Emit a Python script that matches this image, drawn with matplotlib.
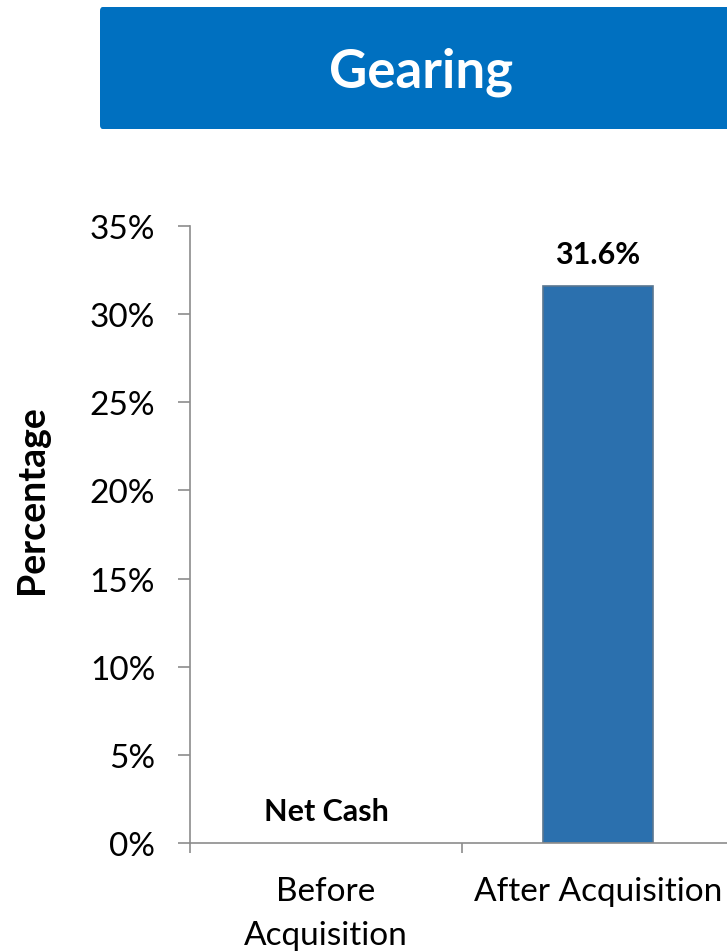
import matplotlib
matplotlib.use("Agg")
import matplotlib.pyplot as plt
from matplotlib.patches import FancyBboxPatch
from matplotlib.ticker import FuncFormatter, MultipleLocator

plt.rcParams['font.family'] = ['Lato', 'DejaVu Sans']

# Data
categories = ["Before\nAcquisition", "After Acquisition"]
values = [0.0, 31.6]
value_labels = ["Net Cash", "31.6%"]
title = "Gearing"
ylabel = "Percentage"

W, H = 727, 953
fig = plt.figure(figsize=(W / 100, H / 100), dpi=100)

# Title banner
box = FancyBboxPatch((100 / W, 1 - 130 / H), 640 / W, 122 / H,
                     boxstyle="round,pad=0,rounding_size=0.004",
                     transform=fig.transFigure, facecolor="#0070C0",
                     edgecolor="none", zorder=0)
fig.patches.append(box)
fig.text(421 / W, 1 - 72 / H, title, color="white", fontsize=38,
         fontweight="bold", ha="center", va="center")

ax = fig.add_axes([190 / W, 1 - 844 / H, 544 / W, (844 - 227) / H])
x = list(range(len(categories)))
edges = ["none" if v == 0 else "#5A7790" for v in values]
bars = ax.bar(x, values, width=0.404, color="#2B70AE", edgecolor=edges,
              linewidth=1.2, zorder=2)

for xi, v, lab in zip(x, values, value_labels):
    ax.text(xi, v + 1.0, lab, ha="center", va="bottom", fontsize=22,
            fontweight="bold", color="black")

ax.set_xlim(-0.5, 1.5)
ax.set_ylim(0, 35)
ax.yaxis.set_major_locator(MultipleLocator(5))
ax.yaxis.set_major_formatter(FuncFormatter(lambda v, p: f"{v:.0f}%"))
ax.set_xticks([-0.5, 0.5, 1.5])
ax.set_xticklabels([])
ax.set_xticks(x, minor=True)
ax.set_xticklabels(categories, minor=True, linespacing=1.55)

for s in ["top", "right"]:
    ax.spines[s].set_visible(False)
for s in ["left", "bottom"]:
    ax.spines[s].set_color("#8C8C8C")
    ax.spines[s].set_linewidth(1.2)

ax.tick_params(axis="y", which="major", length=9, width=1.2, color="#8C8C8C",
               labelsize=24, pad=16)
ax.tick_params(axis="x", which="major", length=7, width=1.2, color="#8C8C8C",
               direction="out")
ax.tick_params(axis="x", which="minor", length=0, labelsize=24, pad=24)

ax.set_ylabel(ylabel, fontsize=27, fontweight="bold", va="center")
ax.yaxis.set_label_coords((32 - 190) / 544, (844 - 500) / 617)

fig.savefig("out.png", dpi=100)
